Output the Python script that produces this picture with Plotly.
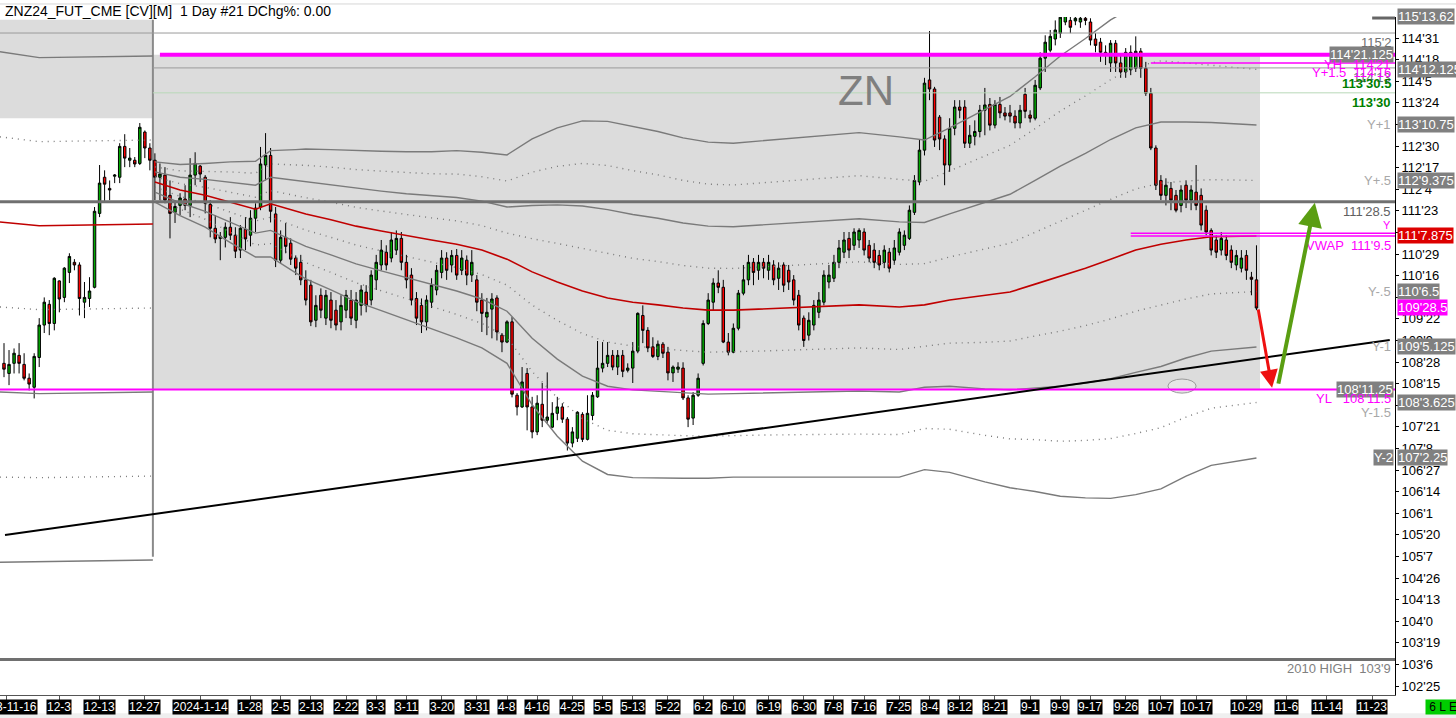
import plotly.graph_objects as go

# ---------------- data (daily bars, prices in points) ----------------
opens = [108.85,108.66,108.85,109.00,108.83,108.57,108.40,108.96,109.57,109.96,
 109.60,110.40,110.09,110.56,110.75,110.70,110.00,110.07,110.28,111.67,
 112.35,112.14,112.37,112.35,112.93,112.67,112.67,112.61,113.20,112.90,
 112.67,112.35,112.39,112.01,111.69,111.82,111.94,111.82,112.39,112.56,
 112.35,111.84,111.39,111.20,111.22,111.41,111.26,110.98,111.37,111.26,
 111.58,111.79,112.58,112.76,111.66,110.79,111.22,111.11,110.83,110.75,
 110.42,110.32,109.66,110.13,109.70,110.04,109.85,109.63,109.85,110.04,
 109.66,109.94,110.19,110.04,110.42,110.70,110.94,110.83,110.98,111.20,
 110.75,110.51,110.07,109.94,109.63,110.00,110.23,110.56,110.83,110.70,
 110.88,110.60,110.79,110.51,110.42,110.04,109.72,109.87,110.08,109.38,
 109.25,109.63,108.25,108.03,108.66,108.03,107.56,108.08,107.78,107.65,
 107.91,108.03,107.80,107.35,107.44,107.89,107.42,107.87,108.22,108.76,
 108.85,109.00,108.78,109.00,108.72,108.76,109.08,109.75,109.47,109.16,
 108.98,109.21,109.06,108.67,108.74,108.76,108.20,107.82,108.25,108.85,
 109.60,110.00,110.36,110.28,109.25,109.06,109.51,110.17,110.42,110.75,
 110.60,110.75,110.60,110.70,110.45,110.70,110.60,110.42,110.13,109.70,
 109.38,109.57,109.81,110.00,110.38,110.45,110.75,110.94,111.20,111.07,
 111.17,111.32,111.07,110.98,110.88,110.75,110.94,110.79,110.94,111.07,
 111.20,111.69,112.26,112.86,114.18,114.01,113.48,113.07,112.58,113.27,
 113.67,113.67,112.99,113.12,113.21,113.61,113.72,113.33,113.72,113.56,
 113.56,113.50,113.37,113.91,113.52,113.46,114.03,114.59,114.74,114.95,
 115.06,115.27,115.30,115.29,115.27,115.34,115.27,114.95,114.89,114.70,
 114.50,114.87,114.50,114.33,114.37,114.40,114.72,114.40,113.93,112.90,
 112.29,112.01,112.14,112.01,111.82,112.20,111.92,112.07,112.01,111.73,
 111.35,111.17,110.98,111.17,110.98,110.70,110.64,110.88,110.47,110.42]
highs = [109.23,109.10,109.13,109.23,109.04,108.66,109.04,109.70,110.09,110.04,
 110.47,110.41,110.66,110.92,110.81,110.75,110.38,110.47,111.79,112.58,
 112.48,112.29,112.41,112.99,113.16,112.90,112.73,113.37,113.23,112.99,
 112.80,112.61,112.54,112.29,111.92,112.05,112.20,112.71,112.82,112.58,
 112.39,111.92,111.64,111.32,111.50,111.60,111.41,111.45,111.60,111.73,
 111.86,112.92,113.18,112.90,111.79,111.35,111.49,111.20,110.88,110.89,
 110.60,110.42,110.13,110.26,110.23,110.19,110.04,110.13,110.23,110.23,
 110.19,110.32,110.32,110.60,110.89,111.17,111.07,111.32,111.35,111.32,
 110.89,110.64,110.19,110.07,110.13,110.45,110.70,110.98,110.94,110.98,
 111.00,110.98,110.88,110.98,110.51,110.17,110.08,110.17,110.13,109.42,
 109.66,109.72,108.29,108.78,108.76,108.22,108.25,108.48,108.68,108.12,
 108.22,108.10,107.84,107.65,107.95,107.93,108.25,108.31,109.27,109.25,
 109.25,109.10,109.10,109.10,108.85,109.25,109.81,109.94,109.53,109.34,
 109.28,109.25,109.16,108.81,108.87,108.87,108.25,108.31,108.66,109.66,
 110.17,110.45,110.60,110.42,109.42,109.60,110.23,110.70,110.89,110.83,
 110.89,110.83,110.89,110.79,110.75,110.75,110.70,110.51,110.23,109.75,
 109.81,110.04,110.19,110.60,110.70,110.89,111.17,111.32,111.32,111.39,
 111.39,111.39,111.17,111.11,110.98,111.07,111.02,111.17,111.39,111.35,
 111.82,112.39,113.05,114.22,115.10,114.05,113.52,113.14,113.46,113.80,
 113.80,113.80,113.33,113.42,113.71,114.03,113.84,113.80,113.86,113.67,
 113.71,113.61,113.71,114.03,113.61,114.18,114.70,115.02,115.12,115.30,
 115.42,115.49,115.38,115.38,115.38,115.40,115.34,115.06,114.97,114.83,
 114.93,114.93,114.65,114.78,114.83,115.00,114.78,114.52,114.03,112.95,
 112.39,112.33,112.26,112.11,112.20,112.29,112.20,112.58,112.14,111.82,
 111.39,111.26,111.32,111.26,111.07,110.98,110.98,110.98,110.57,111.07]
lows = [108.59,108.44,108.66,108.66,108.53,108.34,108.19,108.78,109.42,109.38,
 109.47,109.81,110.00,110.36,110.60,109.75,109.70,109.91,110.26,111.60,
 111.88,111.92,112.24,112.24,112.54,112.54,112.54,112.58,112.71,112.48,
 111.92,111.92,111.86,111.20,111.49,111.64,111.73,111.60,112.20,112.26,
 111.67,111.22,111.11,110.79,111.03,111.17,110.83,110.83,110.98,111.05,
 111.32,111.73,112.29,111.50,110.66,110.73,110.92,110.70,110.51,110.32,
 109.94,109.55,109.53,109.70,109.57,109.51,109.47,109.47,109.70,109.57,
 109.51,109.75,109.81,109.94,110.23,110.60,110.60,110.75,110.89,110.60,
 110.26,109.94,109.57,109.42,109.47,109.89,110.13,110.45,110.42,110.56,
 110.42,110.51,110.32,110.38,109.83,109.44,109.38,109.32,109.28,109.06,
 109.23,108.21,107.87,108.01,107.59,107.44,107.50,107.65,107.73,107.63,
 107.78,107.73,107.21,107.27,107.37,107.37,107.40,107.78,108.20,108.68,
 108.78,108.72,108.63,108.59,108.68,108.48,109.04,109.23,109.06,108.95,
 108.91,108.95,108.53,108.50,108.67,108.16,107.65,107.69,108.22,108.81,
 109.57,109.85,110.17,109.23,109.00,109.04,109.47,110.13,110.32,110.32,
 110.42,110.45,110.42,110.32,110.23,110.19,110.23,109.94,109.47,109.16,
 109.28,109.47,109.70,109.94,110.26,110.38,110.64,110.83,110.83,110.98,
 111.02,110.88,110.75,110.64,110.60,110.64,110.56,110.70,110.88,110.98,
 111.17,111.64,112.20,112.76,113.80,112.92,112.86,112.20,112.45,113.14,
 113.46,112.90,112.90,112.95,113.10,113.14,113.23,113.27,113.46,113.42,
 113.38,113.27,113.27,113.46,113.38,113.42,113.99,114.33,114.70,114.83,
 114.97,115.21,115.06,115.21,115.16,115.21,114.83,114.70,114.52,114.46,
 114.33,114.33,114.22,114.22,114.27,114.33,114.22,113.88,112.86,112.11,
 111.92,111.82,111.73,111.69,111.69,111.77,111.73,111.73,111.35,111.26,
 110.88,110.83,110.88,110.79,110.64,110.60,110.56,110.42,110.13,109.85]
closes = [108.74,108.83,109.04,108.85,108.57,108.46,108.98,109.57,110.00,109.60,
 110.45,110.06,110.64,110.86,110.70,110.07,110.09,110.21,111.71,112.24,
 112.22,112.11,112.39,112.93,112.71,112.71,112.60,113.29,112.90,112.67,
 112.35,112.41,111.92,111.67,111.80,111.96,111.82,112.39,112.61,112.41,
 111.86,111.39,111.19,111.24,111.41,111.26,110.96,111.39,111.19,111.58,
 111.77,112.60,112.76,111.71,110.79,111.22,111.05,110.81,110.64,110.42,
 110.04,109.63,109.94,109.85,110.13,109.66,109.57,109.94,110.13,109.70,
 110.04,110.23,109.94,110.51,110.75,110.98,110.70,111.17,111.20,110.75,
 110.42,110.04,109.70,109.63,110.04,110.32,110.60,110.83,110.60,110.88,
 110.51,110.83,110.51,110.75,110.00,109.79,109.81,110.06,109.44,109.25,
 109.63,108.27,108.03,108.50,108.03,107.56,108.10,107.78,107.84,107.91,
 108.03,107.80,107.35,107.56,107.93,107.42,107.91,108.25,108.76,108.85,
 109.00,108.78,109.00,108.70,108.76,109.08,109.79,109.47,109.14,108.98,
 109.21,109.04,108.67,108.78,108.78,108.20,107.80,108.25,108.57,109.60,
 110.04,110.36,110.28,109.25,109.06,109.51,110.17,110.42,110.75,110.56,
 110.75,110.64,110.75,110.42,110.64,110.32,110.38,110.04,109.57,109.28,
 109.66,109.94,110.04,110.51,110.51,110.75,111.02,111.17,110.98,111.32,
 111.35,110.98,110.83,110.75,110.70,110.98,110.64,111.02,111.32,111.26,
 111.73,112.29,112.86,114.12,114.01,113.05,113.07,112.58,113.27,113.67,
 113.61,112.99,113.14,113.21,113.61,113.71,113.33,113.72,113.56,113.50,
 113.50,113.37,113.61,113.59,113.46,114.08,114.59,114.89,115.00,115.12,
 115.36,115.42,115.17,115.34,115.34,115.30,114.93,114.83,114.70,114.65,
 114.87,114.50,114.33,114.70,114.70,114.72,114.40,113.93,112.90,112.20,
 112.01,112.20,111.92,111.73,112.11,111.92,112.11,111.82,111.45,111.32,
 110.98,110.94,111.20,110.88,110.75,110.88,110.83,110.60,110.43,109.89]

# date labels on the time axis and the bar each one belongs to
date_labels = ["2023-11-16","12-3","12-13","12-27","2024-1-14","1-28","2-5","2-13","2-22","3-3",
               "3-11","3-20","3-31","4-8","4-16","4-25","5-5","5-13","5-22","6-2",
               "6-10","6-19","6-30","7-8","7-16","7-25","8-4","8-12","8-21","9-1",
               "9-9","9-17","9-26","10-7","10-17","10-29","11-6","11-14","11-23"]
date_bars = [0.4,11,19,28,39,49,55,61,68,74,80,87,94,100,106,113,119,125,132,139,
             145,152,159,165,171,178,184,190,197,204,210,216,223,230,237,247,255,263,272]

# price axis labels (points'32nds); labels hidden under value boxes are left blank
price_ticks = ["102'25","103'6","103'19","104'0","104'13","104'26","105'7","105'20","106'1",
               "106'14","106'27","107'8","107'21","108'2","108'15","108'28","109'9","109'22",
               "110'3","110'16","110'29","111'10","111'23","112'4","112'17","112'30","113'11",
               "113'24","114'5","114'18","114'31"]
hidden_ticks = ["108'2", "110'3", "111'10", "113'11"]

# anchored VWAP and its deviation (current year)
band_bars = [30,35,40,45,50,53,58,60,65,70,75,80,85,90,95,100,105,110,115,120,125,130,135,140,
             145,150,160,170,178,183,188,195,200,205,210,215,220,225,230,235,240,249]
vwap_vals = [112.26,112.11,112.01,111.88,111.75,111.85,111.71,111.66,111.55,111.43,
             111.34,111.25,111.17,111.09,110.98,110.81,110.57,110.38,110.21,110.08,
             110.00,109.95,109.89,109.85,109.85,109.87,109.91,109.95,109.91,109.95,
             110.04,110.12,110.19,110.34,110.49,110.64,110.81,110.98,111.09,111.17,
             111.23,111.246]
band_sd = [0.19,0.24,0.30,0.38,0.45,0.50,0.58,0.61,0.66,0.71,
           0.75,0.79,0.83,0.88,0.92,0.98,1.25,1.45,1.60,1.66,
           1.65,1.63,1.60,1.58,1.57,1.58,1.60,1.62,1.60,1.55,
           1.62,1.75,1.84,1.95,2.07,2.16,2.25,2.30,2.30,2.22,
           2.15,2.088]
band_mults = [2, 1.5, 1, 0.5, -0.5, -1, -1.5, -2]

# previous-year VWAP and deviation
prev_bars = [-0.8, 7, 29.6]
prev_vwap = [111.51, 111.44, 111.47]
prev_sd = [3.20, 3.16, 3.16]

# key levels
level_2010_high = 103.28125
level_yh = 114.65625
level_yl = 108.359375
level_y15 = 114.5
level_11413 = 114.40625
level_1152 = 115.0625
level_green = 113.9375
level_dark = 111.890625
level_vwap_y = 111.296875
level_vwap_now = 111.246
anchor_bar = 29.6
range_end_bar = 249.7
prev_box = [113.46, 115.31]

# trend line and projection arrows
trend_bars = [0.2, 275.5]
trend_vals = [105.62, 109.29]
down_arrow = [249.3, 109.89, 252.1, 108.39]
up_arrow = [253.3, 108.44, 260.6, 111.87]
ellipse_bars = [231.4, 237.0]
ellipse_vals = [108.29, 108.555]

# right-axis value boxes
axis_boxes = [("114'12.125", 114.379, "#808080"),
              ("113'10.75", 113.336, "#808080"), ("112'9.375", 112.293, "#808080"),
              ("111'7.875", 111.246, "#dd0000"), ("110'6.5", 110.203, "#808080"),
              ("109'28.5", 109.891, "#ff00ff"), ("109'5.125", 109.160, "#808080"),
              ("108'3.625", 108.113, "#808080"), ("107'2.25", 107.070, "#808080")]
top_box = "115'13.62"


def p32(s):
    a, b = s.split("'")
    return int(a) + float(b) / 32.0


X0, X1 = -0.795, 276.54
Y0, Y1 = 102.612, 115.364
PLOT_H = 678.0
FONT = "Liberation Sans, Arial, sans-serif"

fig = go.Figure()

# previous-year bands
pv_lines = [1, 0.5, -0.5, -1, -1.5, -2]
for m in pv_lines:
    ys = [v + m * s for v, s in zip(prev_vwap, prev_sd)]
    dash = "solid" if float(m).is_integer() else "1px,5px"
    fig.add_trace(go.Scatter(x=prev_bars, y=ys, mode="lines",
                             line=dict(color="#7a7a7a", width=1.4, dash=dash),
                             hoverinfo="skip", showlegend=False))
fig.add_trace(go.Scatter(x=prev_bars, y=prev_vwap, mode="lines",
                         line=dict(color="#c00000", width=1.5), hoverinfo="skip", showlegend=False))

# current bands
for m in band_mults:
    ys = [v + m * s for v, s in zip(vwap_vals, band_sd)]
    dash = "solid" if float(m).is_integer() else "1px,5px"
    fig.add_trace(go.Scatter(x=band_bars, y=ys, mode="lines",
                             line=dict(color="#7a7a7a", width=1.4, dash=dash),
                             hoverinfo="skip", showlegend=False))
fig.add_trace(go.Scatter(x=band_bars, y=vwap_vals, mode="lines",
                         line=dict(color="#c00000", width=1.6), hoverinfo="skip", showlegend=False))

# candles
fig.add_trace(go.Candlestick(
    x=list(range(len(opens))), open=opens, high=highs, low=lows, close=closes,
    increasing=dict(line=dict(color="#000000", width=1), fillcolor="#00a800"),
    decreasing=dict(line=dict(color="#000000", width=1), fillcolor="#ff0000"),
    whiskerwidth=0, hoverinfo="skip", showlegend=False))

shapes = []
# background boxes
shapes.append(dict(type="rect", xref="x", yref="y", x0=X0, x1=anchor_bar, y0=prev_box[0], y1=prev_box[1],
                   fillcolor="#dcdcdc", line=dict(width=0), layer="below"))
shapes.append(dict(type="rect", xref="x", yref="y", x0=anchor_bar, x1=range_end_bar, y0=level_yl, y1=level_yh,
                   fillcolor="#dcdcdc", line=dict(width=0), layer="below"))
shapes.append(dict(type="line", xref="x", yref="y", x0=anchor_bar, x1=anchor_bar, y0=105.21, y1=prev_box[1],
                   line=dict(color="#8a8a8a", width=2), layer="below"))


def hline(y, xa, xb, color, width, layer="above"):
    shapes.append(dict(type="line", xref="x", yref="y", x0=xa, x1=xb, y0=y, y1=y,
                       line=dict(color=color, width=width), layer=layer))


hline(level_1152, X0, X1, "#9a9a9a", 1)
hline(level_11413, anchor_bar, X1, "#9a9a9a", 1)
hline(level_green, anchor_bar, X1, "#b8d8b8", 1)
hline(level_yh, 31, X1, "#ff00ff", 4)
hline(level_y15, 228, X1, "#ff00ff", 1.5)
hline(level_dark, X0, X1, "#707070", 3)
hline(level_vwap_y, 224, X1, "#ff00ff", 1.5)
hline(level_vwap_now, 224, X1, "#ff00ff", 1.5)
hline(level_yl, X0, X1, "#ff00ff", 2)
hline(level_2010_high, X0, X1, "#707070", 3)
# short marker for the upper band value at the top edge
shapes.append(dict(type="line", xref="x", yref="paper", x0=272, x1=X1, y0=0.9985, y1=0.9985,
                   line=dict(color="#666666", width=3)))
# top frame line of the window
shapes.append(dict(type="line", xref="paper", yref="paper", x0=0, x1=1.05, y0=1.0192, y1=1.0192,
                   line=dict(color="#d6d6d6", width=1)))
# trend line
shapes.append(dict(type="line", xref="x", yref="y", x0=trend_bars[0], x1=trend_bars[1],
                   y0=trend_vals[0], y1=trend_vals[1], line=dict(color="#000000", width=2), layer="above"))
# ellipse
shapes.append(dict(type="circle", xref="x", yref="y", x0=ellipse_bars[0], x1=ellipse_bars[1],
                   y0=ellipse_vals[0], y1=ellipse_vals[1], line=dict(color="#9a9a9a", width=1),
                   fillcolor="#e6e6e6", layer="below"))
# status strip
shapes.append(dict(type="rect", xref="paper", yref="paper", x0=-0.01, x1=1.05, y0=-0.04, y1=-0.027,
                   fillcolor="#efefef", line=dict(width=0)))

ann = []
# title
ann.append(dict(xref="paper", yref="paper", x=0.002, y=1, xanchor="left", yanchor="middle", yshift=6,
                text="ZNZ24_FUT_CME [CV][M]  1 Day #21 DChg%: 0.00", showarrow=False,
                font=dict(family=FONT, size=14, color="#000000")))
# big symbol
ann.append(dict(xref="x", yref="y", x=171.4, y=113.99, text="ZN", showarrow=False,
                font=dict(family=FONT, size=42, color="#7f7f7f")))
# date boxes
for t, b in zip(date_labels, date_bars):
    ann.append(dict(xref="x", yref="paper", x=b, y=0, yanchor="top", yshift=-4, text=t,
                    showarrow=False, bgcolor="#000000", borderpad=0,
                    font=dict(family=FONT, size=12, color="#ffffff")))
ann.append(dict(xref="paper", yref="paper", x=1.0215, y=0, xanchor="left", yanchor="top", yshift=-4,
                text=" 6 L E ", showarrow=False, bgcolor="#00cc00", borderpad=0,
                font=dict(family=FONT, size=12, color="#000000")))
# axis value boxes
ann.append(dict(xref="paper", yref="paper", x=1, y=1, xanchor="left", yanchor="middle", xshift=2, yshift=1,
                text=top_box, showarrow=False, bgcolor="#808080", borderpad=0,
                font=dict(family=FONT, size=13, color="#ffffff")))
for t, v, c in axis_boxes:
    ann.append(dict(xref="paper", yref="y", x=1, y=v, xanchor="left", yanchor="middle", xshift=2,
                    text=t, showarrow=False, bgcolor=c, borderpad=0,
                    font=dict(family=FONT, size=13, color="#ffffff")))
# boxes left of the axis
for t, v in [("114'21.125", level_yh), ("108'11.25", 108.3516)]:
    ann.append(dict(xref="paper", yref="y", x=1, y=v, xanchor="right", yanchor="middle", xshift=-1,
                    text=t, showarrow=False, bgcolor="#808080", borderpad=0,
                    font=dict(family=FONT, size=13, color="#ffffff")))


def rlabel(text, y, color, anchor="middle", size=13, bg=None):
    d = dict(xref="paper", yref="y", x=1, y=y, xanchor="right", yanchor=anchor, xshift=-2,
             text=text, showarrow=False, font=dict(family=FONT, size=size, color=color))
    if bg:
        d["bgcolor"] = bg
        d["borderpad"] = 0
        d["xshift"] = -1
    ann.append(d)


rlabel("115'2", level_1152, "#707070", "top")
rlabel("114'13", level_11413, "#707070", "top")
rlabel("YH&nbsp;&nbsp;&nbsp;114'21", level_yh, "#ff00ff", "top")
rlabel("Y+1.5&nbsp;&nbsp;114'16", level_y15, "#ff00ff", "top")
rlabel("<b>113'30.5</b>", level_green, "#008000", "bottom")
rlabel("<b>113'30</b>", level_green, "#008000", "top")
rlabel("Y+1", 113.336, "#a8a8a8")
rlabel("Y+.5", 112.293, "#a8a8a8")
rlabel("111'28.5", level_dark, "#606060", "top")
rlabel("Y", level_vwap_y, "#ff00ff", "bottom", 11)
rlabel("VWAP&nbsp;&nbsp;111'9.5", level_vwap_now, "#ff00ff", "top")
rlabel("Y-.5", 110.203, "#a8a8a8")
rlabel("Y-1", 109.160, "#a8a8a8")
rlabel("Y-1.5", 108.113, "#a8a8a8", "top")
rlabel("YL&nbsp;&nbsp;&nbsp;108'11.5", level_yl, "#ff00ff", "top")
rlabel("Y-2", 107.070, "#ffffff", bg="#808080")
rlabel("2010 HIGH&nbsp;&nbsp;103'9", level_2010_high, "#808080", "top")

# projection arrows
ann.append(dict(xref="x", yref="y", axref="x", ayref="y", x=down_arrow[2], y=down_arrow[3],
                ax=down_arrow[0], ay=down_arrow[1], text="", showarrow=True, arrowhead=2,
                arrowsize=1.2, arrowwidth=3, arrowcolor="#ee1111", standoff=0))
ann.append(dict(xref="x", yref="y", axref="x", ayref="y", x=up_arrow[2], y=up_arrow[3],
                ax=up_arrow[0], ay=up_arrow[1], text="", showarrow=True, arrowhead=2,
                arrowsize=1.2, arrowwidth=4, arrowcolor="#5a9e12", standoff=0))

fig.update_layout(
    width=1456, height=718,
    margin=dict(l=0, r=61, t=17, b=23),
    paper_bgcolor="#ffffff", plot_bgcolor="#ffffff",
    showlegend=False, shapes=shapes, annotations=ann,
    font=dict(family=FONT, size=13, color="#000000"),
    xaxis=dict(range=[X0, X1], showgrid=False, zeroline=False, showline=True, linecolor="#555555",
               linewidth=1, tickvals=date_bars, ticktext=["" for _ in date_bars], ticks="outside",
               ticklen=4, tickcolor="#555555", rangeslider=dict(visible=False), fixedrange=True),
    yaxis=dict(range=[Y0, Y1], side="right", showgrid=False, zeroline=False, showline=True,
               linecolor="#000000", linewidth=1, tickvals=[p32(t) for t in price_ticks],
               ticktext=["" if t in hidden_ticks else t for t in price_ticks],
               ticks="outside", ticklen=3, tickcolor="#000000",
               tickfont=dict(family=FONT, size=13, color="#000000"), fixedrange=True),
)

fig.write_html("out.html", config={"displayModeBar": False},
               post_script="document.body.style.margin='0px';document.body.style.overflow='hidden';")
